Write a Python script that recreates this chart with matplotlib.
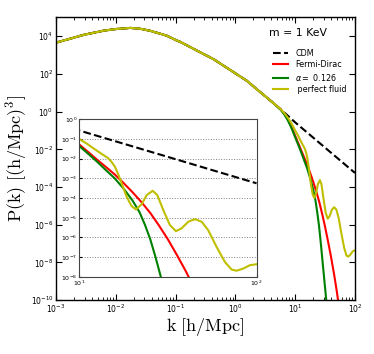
import numpy as np
import matplotlib
matplotlib.use("Agg")
import matplotlib.pyplot as plt
from matplotlib.ticker import LogLocator, NullLocator, FixedLocator

# ---- data (log10 k [h/Mpc], log10 P(k)) ----
shared_logk = [-3.0, -2.75, -2.54, -2.21, -2.0, -1.76, -1.6, -1.43, -1.3, -1.15,
               -0.98, -0.93, -0.59, -0.37, 0.19, 0.41, 0.6]
shared_logP = [3.66, 3.88, 4.07, 4.29, 4.38, 4.44, 4.40, 4.29, 4.17, 4.03,
               3.77, 3.71, 3.15, 2.79, 1.64, 1.05, 0.55]

cdm_logk = [0.76, 1.0, 1.5, 2.0]
cdm_logP = [0.12, -0.57, -1.91, -3.25]

fd_logk = [0.76, 0.82, 0.88, 0.94, 1.0, 1.05, 1.1, 1.15, 1.2, 1.25, 1.3, 1.35,
           1.4, 1.45, 1.5, 1.55, 1.6, 1.65, 1.7, 1.73]
fd_logP = [0.11, -0.12, -0.42, -0.82, -1.28, -1.66, -2.05, -2.42, -2.8, -3.24,
           -3.7, -4.2, -4.75, -5.4, -6.1, -6.88, -7.7, -8.6, -9.6, -10.3]

alpha_logk = [0.76, 0.82, 0.88, 0.94, 1.0, 1.05, 1.1, 1.15, 1.2, 1.25, 1.3, 1.34,
              1.37, 1.40, 1.43, 1.46, 1.49, 1.53]
alpha_logP = [0.09, -0.16, -0.48, -0.88, -1.36, -1.75, -2.15, -2.58, -3.0, -3.52,
              -4.12, -4.72, -5.35, -6.08, -7.0, -8.0, -9.0, -10.3]

fluid_logk = [0.76, 0.82, 0.88, 0.94, 1.0, 1.04, 1.079, 1.12, 1.164, 1.185, 1.201,
              1.22, 1.239, 1.267, 1.295, 1.32, 1.352, 1.38, 1.414, 1.44, 1.474,
              1.511, 1.545, 1.577, 1.615, 1.652, 1.69, 1.727, 1.774, 1.821, 1.859,
              1.887, 1.925, 1.962, 2.0]
fluid_logP = [0.12, -0.08, -0.33, -0.63, -1.0, -1.22, -1.47, -1.72, -1.98, -2.2,
              -2.41, -2.8, -3.25, -3.93, -4.41, -4.58, -4.31, -3.85, -3.63, -3.85,
              -4.61, -5.37, -5.68, -5.54, -5.20, -5.07, -5.20, -5.63, -6.47, -7.24,
              -7.63, -7.69, -7.58, -7.41, -7.36]

labels = ["CDM", "Fermi-Dirac", r"$\alpha=$ 0.126", " perfect fluid"]
colors = ["k", "r", "g", "y"]
styles = ["--", "-", "-", "-"]
title = "m = 1 KeV"

main_yticks_exp = [-10, -8, -6, -4, -2, 0, 2, 4]
inset_yticks_exp = [-8, -7, -6, -5, -4, -3, -2, -1, 0]


def series(lk, lp):
    k = 10.0 ** np.array(shared_logk + lk)
    p = 10.0 ** np.array(shared_logP + lp)
    return k, p


curves = [series(cdm_logk, cdm_logP), series(fd_logk, fd_logP),
          series(alpha_logk, alpha_logP), series(fluid_logk, fluid_logP)]

W, H = 374, 354
fig = plt.figure(figsize=(W / 100, H / 100), dpi=100)
ax = fig.add_axes([0.150, 0.152, 0.799, 0.799])

for (k, p), c, ls, lab in zip(curves, colors, styles, labels):
    ax.plot(k, p, color=c, ls=ls, lw=1.5, label=lab)

ax.set_xscale("log")
ax.set_yscale("log")
ax.set_xlim(1e-3, 1e2)
ax.set_ylim(1e-10, 1e5)
ax.yaxis.set_major_locator(FixedLocator([10.0 ** e for e in main_yticks_exp]))
ax.yaxis.set_minor_locator(NullLocator())
ax.xaxis.set_major_locator(LogLocator(base=10, numticks=10))
ax.xaxis.set_minor_locator(LogLocator(base=10, subs=np.arange(2, 10), numticks=20))
ax.tick_params(which="both", direction="in", top=True, right=True, labelsize=5.5,
               pad=2)
ax.tick_params(which="major", length=4, width=0.8)
ax.tick_params(which="minor", length=2, width=0.6)
for s in ax.spines.values():
    s.set_linewidth(1.0)

ax.set_xlabel(r"$\mathrm{k\ [h/Mpc]}$", fontsize=13, math_fontfamily="cm")
ax.xaxis.set_label_coords(0.5, -0.055)
ax.set_ylabel(r"$\mathrm{P(k)\ [(h/Mpc)^3]}$", fontsize=13, math_fontfamily="cm")
ax.yaxis.set_label_coords(-0.09, 0.5)

fig.text(269 / W, 1 - 33 / H, title, fontsize=7.8, ha="left", va="center")
ax.legend(loc="upper left", bbox_to_anchor=(265.5 / W, 1 - 41.5 / H),
          bbox_transform=fig.transFigure, frameon=False, fontsize=5.8,
          handlelength=1.9, handletextpad=0.9, labelspacing=0.3,
          borderpad=0.4)

# inset
axin = fig.add_axes([0.212, 0.218, 0.474, 0.445])
for (k, p), c, ls in zip(curves, colors, styles):
    axin.plot(k, p, color=c, ls=ls, lw=1.5)
axin.set_xscale("log")
axin.set_yscale("log")
axin.set_xlim(10, 100)
axin.set_ylim(1e-8, 1e0)
axin.yaxis.set_major_locator(FixedLocator([10.0 ** e for e in inset_yticks_exp]))
axin.yaxis.set_minor_locator(NullLocator())
axin.xaxis.set_major_locator(FixedLocator([10, 100]))
axin.xaxis.set_minor_locator(NullLocator())
axin.yaxis.grid(True, linestyle=":", color="gray", lw=0.7)
axin.tick_params(which="both", direction="in", labelsize=4.5, pad=1.5, length=2)
for s in axin.spines.values():
    s.set_linewidth(0.8)
    s.set_color("#444444")

fig.savefig("out.png", dpi=100)
